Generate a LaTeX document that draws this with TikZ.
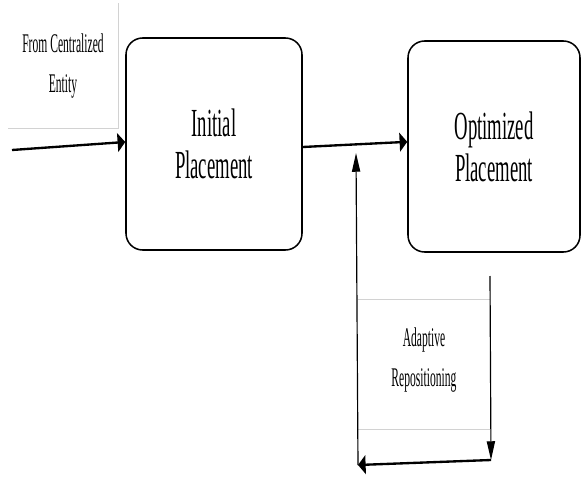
\documentclass[tikz,border=0pt]{standalone}
\usepackage{fontspec}
\setmainfont{Liberation Serif}[FakeStretch=0.47]
\newfontfamily\notefont{Liberation Serif}[FakeStretch=0.43]
\usepackage{tikz}
\usetikzlibrary{arrows.meta}

\begin{document}
\begin{tikzpicture}[x=0.03cm, y=-0.03cm,
    stagebox/.style={draw, line width=1.3pt, rounded corners=0.5cm, align=center,
        font=\fontsize{34}{36}\selectfont},
    notebox/.style={align=center, font=\notefont\fontsize{23}{34}\selectfont},
    faint/.style={draw=gray!35, line width=0.6pt},
    harrow/.style={-{Triangle[length=6.5pt,width=16pt]}, line width=2pt},
    varrow/.style={-{Triangle[length=16pt,width=7pt]}, line width=1pt}]
        \useasboundingbox (0,0) rectangle (582,477);

        \node[stagebox, minimum width=5.28cm, minimum height=6.36cm] (init) at (214,144) {Initial\\Placement};
        \node[stagebox, minimum width=5.16cm, minimum height=6.33cm] (opt) at (494,146.5) {Optimized\\Placement};

        \node[notebox, minimum width=3.3cm, minimum height=3.75cm] (src) at (63,66) {From Centralized\\Entity};
        \node[notebox, minimum width=3.96cm, minimum height=3.87cm] (adapt) at (424,360) {Adaptive\\Repositioning};
        \draw[faint] (src.north east) -- (src.south east) -- (src.south west);
        \draw[faint] ([yshift=-0.13cm]adapt.north west) -- ([yshift=-0.13cm]adapt.north east);
        \draw[faint] ([yshift=-0.13cm]adapt.south west) -- ([yshift=-0.13cm]adapt.south east);

        \coordinate (feed) at (12,150);
        \coordinate (down0) at (490,276);
        \coordinate (down1) at (491,460);
        \coordinate (back1) at (358,465);
        \coordinate (join) at (356,153);

        \draw[harrow] (feed) -- ([yshift=0.06cm]init.west);
        \draw[harrow] ([yshift=-0.09cm]init.east) -- ([yshift=0.14cm]opt.west);
        \draw[varrow] (down0) -- (down1);
        \draw[harrow] (down1) -- (back1);
        \draw[varrow] (back1) -- (join);
    \end{tikzpicture}
\end{document}
